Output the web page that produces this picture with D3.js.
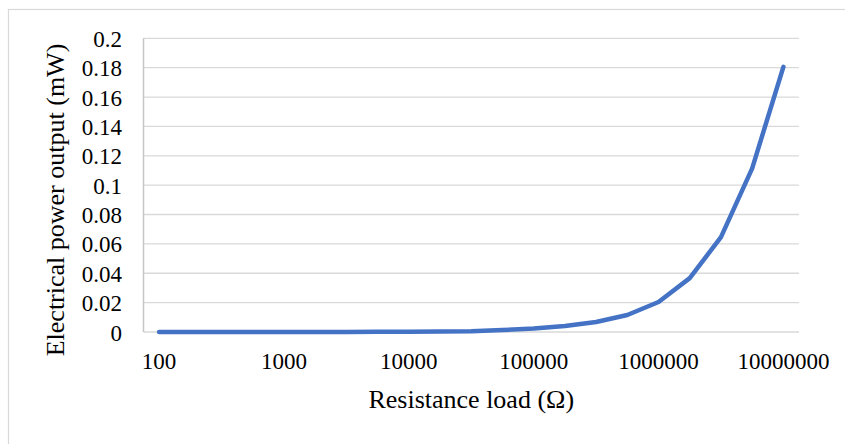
<!DOCTYPE html>
<html>
<head>
<meta charset="utf-8">
<script src="https://cdn.jsdelivr.net/npm/d3@7"></script>
<style>
  body { margin: 0; background: #fff; }
  svg text { font-family: "Liberation Serif", "Times New Roman", serif; fill: #000; }
</style>
</head>
<body>
<svg id="chart"></svg>
<script>
// resistance load categories (ohm), one every quarter decade
var resistance = [100, 178, 316, 562, 1000, 1778, 3162, 5623, 10000, 17783, 31623, 56234,
  100000, 177828, 316228, 562341, 1000000, 1778279, 3162278, 5623413, 10000000];
// electrical power output (mW)
var power = [0.000002, 0.000004, 0.000007, 0.000012, 0.00002, 0.000035, 0.00006, 0.0001,
  0.00018, 0.0003, 0.00055, 0.0013, 0.0024, 0.0041, 0.0068, 0.0116, 0.0204, 0.0367, 0.0646, 0.1114, 0.1806];
var xTickLabels = [100, 1000, 10000, 100000, 1000000, 10000000];
var yTicks = [0, 0.02, 0.04, 0.06, 0.08, 0.1, 0.12, 0.14, 0.16, 0.18, 0.2];

var width = 845, height = 444;
var plotLeft = 143.5, plotRight = 799, plotTop = 38.3, plotBottom = 332;

var svg = d3.select("#chart")
  .attr("width", width)
  .attr("height", height);

// chart area frame (runs off the picture on right and bottom)
svg.append("rect")
  .attr("x", 8.5).attr("y", 9.5)
  .attr("width", 900).attr("height", 500)
  .attr("fill", "#fff")
  .attr("stroke", "#d9d9d9")
  .attr("stroke-width", 1.2);

var x = d3.scalePoint()
  .domain(resistance)
  .range([plotLeft, plotRight])
  .padding(0.5);

var y = d3.scaleLinear()
  .domain([0, 0.2])
  .range([plotBottom, plotTop]);

// horizontal gridlines
svg.append("g").selectAll("line")
  .data(yTicks)
.enter().append("line")
  .attr("x1", plotLeft).attr("x2", plotRight)
  .attr("y1", function(d) { return y(d); })
  .attr("y2", function(d) { return y(d); })
  .attr("stroke", "#d9d9d9")
  .attr("stroke-width", 1.3);

// left axis line
svg.append("line")
  .attr("x1", plotLeft).attr("x2", plotLeft)
  .attr("y1", plotTop).attr("y2", plotBottom)
  .attr("stroke", "#c6c6c6")
  .attr("stroke-width", 1.5);

// y tick labels
svg.append("g").selectAll("text")
  .data(yTicks)
.enter().append("text")
  .attr("x", 122)
  .attr("y", function(d) { return y(d) + 8.5; })
  .attr("text-anchor", "end")
  .style("font-size", "23px")
  .text(function(d) { return d; });

// x tick labels
svg.append("g").selectAll("text")
  .data(xTickLabels)
.enter().append("text")
  .attr("x", function(d) { return x(d); })
  .attr("y", 369)
  .attr("text-anchor", "middle")
  .style("font-size", "23px")
  .text(function(d) { return d; });

// axis titles
svg.append("text")
  .attr("x", (plotLeft + plotRight) / 2)
  .attr("y", 408)
  .attr("text-anchor", "middle")
  .style("font-size", "26px")
  .text("Resistance load (\u03A9)");

svg.append("text")
  .attr("transform", "translate(64,200) rotate(-90)")
  .attr("text-anchor", "middle")
  .style("font-size", "26px")
  .text("Electrical power output (mW)");

// power curve
var line = d3.line()
  .x(function(d, i) { return x(resistance[i]); })
  .y(function(d) { return y(d); });

svg.append("path")
  .datum(power)
  .attr("d", line)
  .attr("fill", "none")
  .attr("stroke", "#4472C4")
  .attr("stroke-width", 4.5)
  .attr("stroke-linecap", "round")
  .attr("stroke-linejoin", "round");
</script>
</body>
</html>
